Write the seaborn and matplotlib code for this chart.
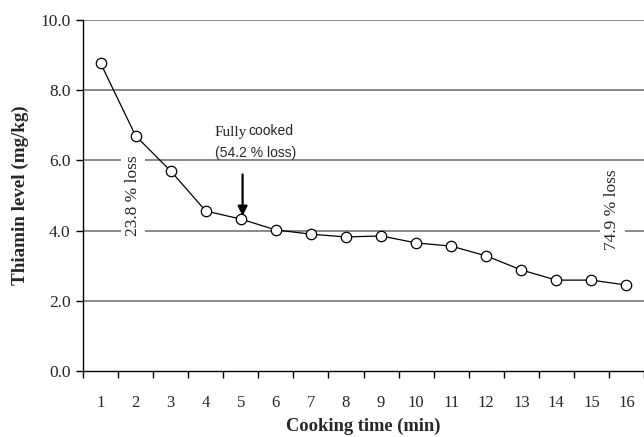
import matplotlib
matplotlib.use("Agg")
import matplotlib.pyplot as plt
import seaborn as sns
import pandas as pd
import numpy as np

cooking_time = list(range(1, 17))
thiamin = [8.77, 6.70, 5.70, 4.56, 4.33, 4.02, 3.90, 3.82, 3.85, 3.65, 3.56, 3.28, 2.88, 2.59, 2.59, 2.45]
y_ticks = [0.0, 2.0, 4.0, 6.0, 8.0, 10.0]

df = pd.DataFrame({"time": cooking_time, "thiamin": thiamin})

sns.set_theme(style="white")
plt.rcParams["font.family"] = ["Liberation Serif", "DejaVu Serif"]

fig = plt.figure(figsize=(6.44, 4.37), dpi=100)
ax = fig.add_axes([0.129, 0.151, 0.871, 0.803])

for yv in y_ticks[1:]:
    ax.axhline(yv, color="#808080", lw=1.3, zorder=0)

sns.lineplot(data=df, x="time", y="thiamin", ax=ax, color="black", lw=0.9,
             marker="o", markersize=7.5, markerfacecolor="white",
             markeredgecolor="black", markeredgewidth=0.9, zorder=3)

ax.set_xlim(0.5, 16.5)
ax.set_ylim(0, 10)
ax.set_yticks(y_ticks)
ax.set_yticklabels([f"{v:.1f}" for v in y_ticks], fontsize=12.5)
ax.set_xticks(cooking_time)
ax.set_xticklabels([str(t) for t in cooking_time], fontsize=12)
ax.set_xticks(np.arange(0.5, 17, 1), minor=True)
ax.tick_params(axis="x", which="major", length=0, pad=17)
ax.tick_params(axis="x", which="minor", length=5, width=1, color="black", direction="out", bottom=True)
ax.tick_params(axis="y", which="major", length=5, width=1, color="black", direction="out", left=True, pad=4)

for s in ["top", "right"]:
    ax.spines[s].set_visible(False)
for s in ["left", "bottom"]:
    ax.spines[s].set_color("black")
    ax.spines[s].set_linewidth(1.0)

ax.set_xlabel("Cooking time (min)", fontsize=13.3, fontweight="bold", labelpad=5)
ax.set_ylabel("Thiamin level (mg/kg)", fontsize=13.7, fontweight="bold", labelpad=8)

bbox = dict(facecolor="white", edgecolor="none", pad=3)
ax.text(1.92, 5.0, "23.8 % loss", rotation=90, ha="center", va="center",
        fontsize=12.5, bbox=bbox, zorder=2)
ax.text(15.6, 4.6, "74.9 % loss", rotation=90, ha="center", va="center",
        fontsize=12.5, bbox=bbox, zorder=2)

ax.text(4.26, 6.81, "Fully", fontsize=11, ha="left", va="center")
ax.text(5.22, 6.85, "cooked", fontsize=10, ha="left", va="center",
        family=["Liberation Sans", "DejaVu Sans"])
ax.text(4.26, 6.22, "(54.2 % loss)", fontsize=10, ha="left", va="center",
        family=["Liberation Sans", "DejaVu Sans"])
ax.annotate("", xy=(5.05, 4.42), xytext=(5.05, 5.6),
            arrowprops=dict(arrowstyle="-|>", color="black", lw=1.6,
                            mutation_scale=14, shrinkA=0, shrinkB=0))

fig.savefig("out.png", dpi=100)
